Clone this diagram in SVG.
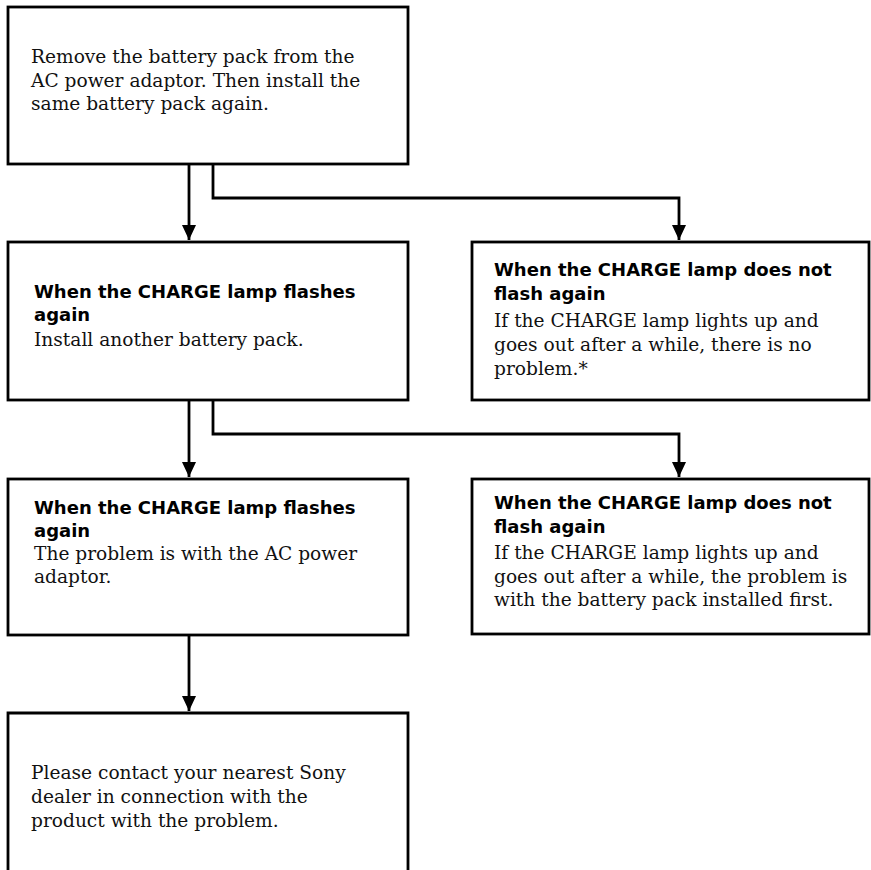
<svg xmlns="http://www.w3.org/2000/svg" width="871" height="870" viewBox="0 0 871 870">
<defs>
<marker id="ah" viewBox="0 0 15 14" refX="15" refY="7" markerWidth="15" markerHeight="14" markerUnits="userSpaceOnUse" orient="auto">
<path d="M0,0 L15,7 L0,14 Z" fill="#000"/>
</marker>
</defs>
<style>
.box{fill:#fff;stroke:#000;stroke-width:2.8}
.ln{fill:none;stroke:#000;stroke-width:2.8}
.t{font-family:"DejaVu Serif","Liberation Serif",serif;font-size:18.6px;fill:#111}
.b{font-family:"DejaVu Sans","Open Sans",sans-serif;font-weight:bold;font-size:18px;fill:#000}
</style>
<rect width="871" height="870" fill="#fff"/>
<g id="connectors">
<path class="ln" d="M189,164 V240" marker-end="url(#ah)"/>
<path class="ln" d="M213,164 V198 H679 V240" marker-end="url(#ah)"/>
<path class="ln" d="M189,400 V477" marker-end="url(#ah)"/>
<path class="ln" d="M213,400 V434 H679 V477" marker-end="url(#ah)"/>
<path class="ln" d="M189,635 V711" marker-end="url(#ah)"/>
</g>
<g id="n1">
<rect class="box" x="8" y="7" width="400" height="157"/>
<text class="t" x="31" y="63">Remove the battery pack from the</text>
<text class="t" x="31" y="87">AC power adaptor. Then install the</text>
<text class="t" x="31" y="110">same battery pack again.</text>
</g>
<g id="n2">
<rect class="box" x="8" y="242" width="400" height="158"/>
<text class="b" x="34" y="298">When the CHARGE lamp flashes</text>
<text class="b" x="34" y="321">again</text>
<text class="t" x="34" y="346">Install another battery pack.</text>
</g>
<g id="n3">
<rect class="box" x="472" y="242" width="397" height="158"/>
<text class="b" x="494" y="276">When the CHARGE lamp does not</text>
<text class="b" x="494" y="300">flash again</text>
<text class="t" x="494" y="327">If the CHARGE lamp lights up and</text>
<text class="t" x="494" y="351">goes out after a while, there is no</text>
<text class="t" x="494" y="375">problem.*</text>
</g>
<g id="n4">
<rect class="box" x="8" y="479" width="400" height="156"/>
<text class="b" x="34" y="514">When the CHARGE lamp flashes</text>
<text class="b" x="34" y="537">again</text>
<text class="t" x="34" y="560">The problem is with the AC power</text>
<text class="t" x="34" y="583">adaptor.</text>
</g>
<g id="n5">
<rect class="box" x="472" y="479" width="397" height="155"/>
<text class="b" x="494" y="509">When the CHARGE lamp does not</text>
<text class="b" x="494" y="533">flash again</text>
<text class="t" x="494" y="559">If the CHARGE lamp lights up and</text>
<text class="t" x="494" y="583">goes out after a while, the problem is</text>
<text class="t" x="494" y="606">with the battery pack installed first.</text>
</g>
<g id="n6">
<path class="box" d="M8,872 V713 H408 V872"/>
<text class="t" x="31" y="779">Please contact your nearest Sony</text>
<text class="t" x="31" y="803">dealer in connection with the</text>
<text class="t" x="31" y="827">product with the problem.</text>
</g>
</svg>
